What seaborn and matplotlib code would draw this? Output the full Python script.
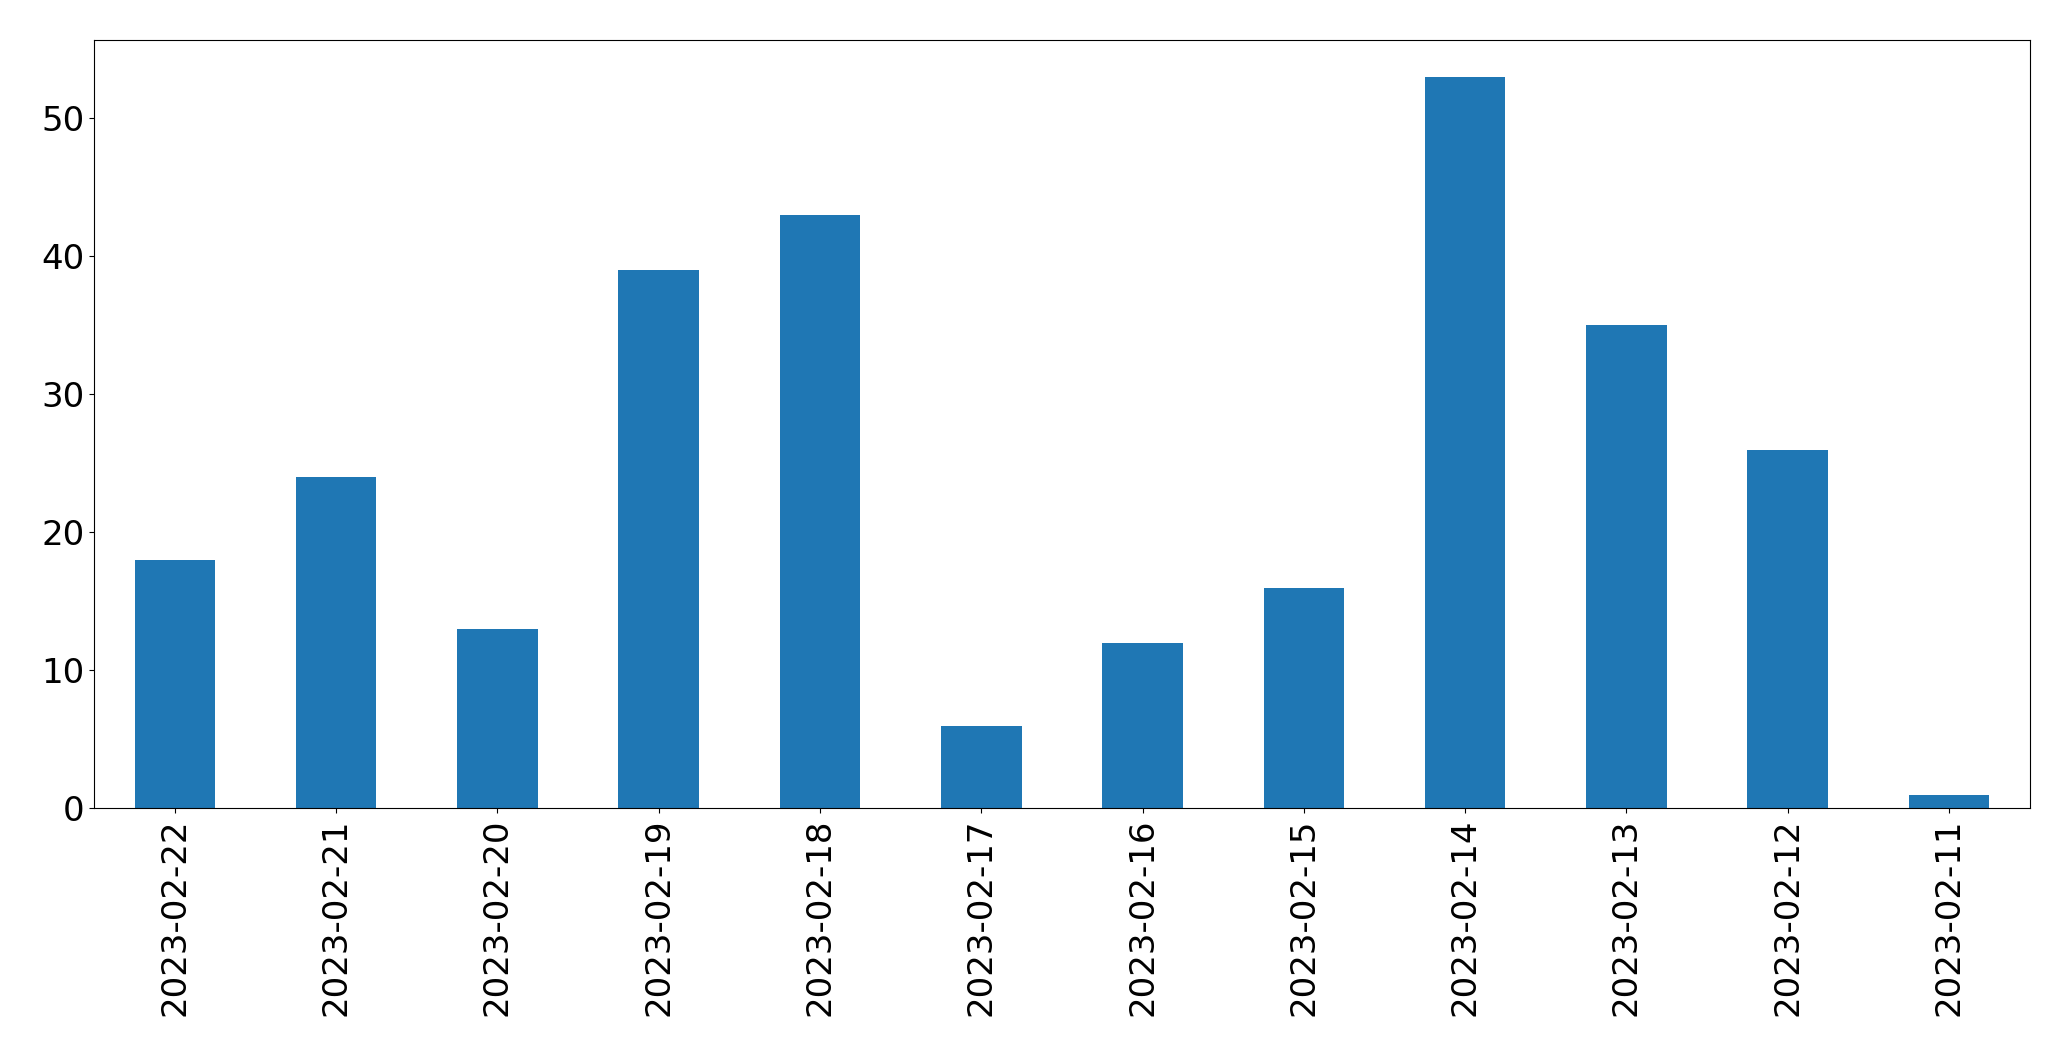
import matplotlib.pyplot as plt
import seaborn as sb
import pandas as pd

# Daily counts, newest first (as in the original)
dates = ["2023-02-22", "2023-02-21", "2023-02-20", "2023-02-19", "2023-02-18", "2023-02-17",
         "2023-02-16", "2023-02-15", "2023-02-14", "2023-02-13", "2023-02-12", "2023-02-11"]
counts = [18, 24, 13, 39, 43, 6, 12, 16, 53, 35, 26, 1]

df = pd.DataFrame({"date": dates, "count": counts})

plt.rcParams['font.family'] = 'DejaVu Sans'
fig, ax = plt.subplots(figsize=(20.71, 10.61), dpi=100)

sb.barplot(data=df, x="date", y="count", order=dates, color="#1f77b4",
           saturation=1, width=0.5, linewidth=0, ax=ax)

ax.set_xlim(-0.5, len(dates) - 0.5)
ax.set_ylim(0, max(counts) * 1.05)
ax.set_xlabel("")
ax.set_ylabel("")
ax.tick_params(axis='x', labelrotation=90, labelsize=24.5)
ax.tick_params(axis='y', labelsize=24.5)

plt.subplots_adjust(left=0.0455, right=0.980, top=0.962, bottom=0.238)
plt.savefig("out.png", dpi=100)
